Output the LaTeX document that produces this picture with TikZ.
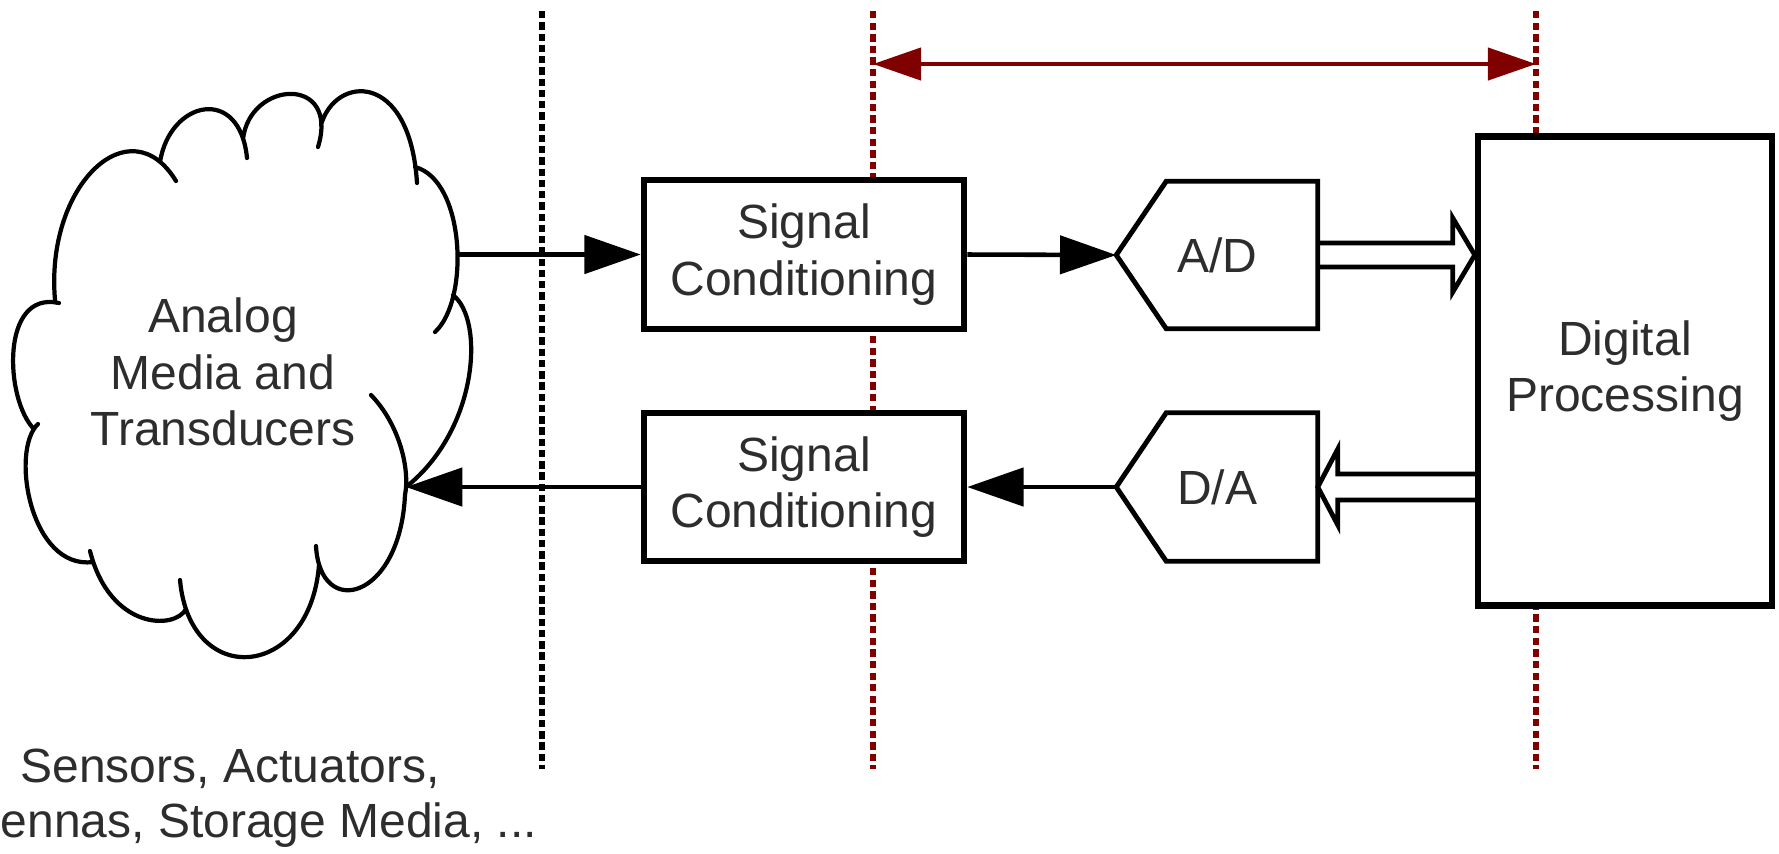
\documentclass[tikz,border=0pt]{standalone}
\usepackage{fontspec}
\setmainfont{Liberation Sans}
\usetikzlibrary{arrows.meta,calc,backgrounds}
\definecolor{dred}{RGB}{128,0,0}
\definecolor{txtgray}{RGB}{45,45,45}
\begin{document}
\begin{tikzpicture}[x=0.01cm,y=-0.01cm,
  txt/.style={font=\fontsize{13.65}{16}\selectfont, text=txtgray, align=center, inner sep=0pt},
  box/.style={txt, draw=black, line width=1.8pt, fill=white, minimum width=3.2cm},
  conv/.style={draw=black, line width=1.4pt, line join=miter},
  sigarrow/.style={draw=black, line width=1.3pt, -{Triangle[length=16pt,width=10.8pt]}},
  wide/.style={draw=black, line width=1.35pt, line join=miter},
  cloudline/.style={draw=black, line width=1.2pt, line cap=round},
  blackdots/.style={draw=black, line width=1.5pt, dash pattern=on 2.1pt off 1.1pt},
  reddots/.style={draw=dred, line width=1.5pt, dash pattern=on 2.1pt off 1.2pt},
  span/.style={draw=dred, line width=1.3pt, {Triangle[length=13.7pt,width=9.1pt]}-{Triangle[length=13.7pt,width=9.1pt]}},
]
\useasboundingbox (0,0) rectangle (1779,853);

% blocks
\node[box, minimum height=1.49cm] (sc1) at (804,254.5) {Signal\\Conditioning};
\node[box, minimum height=1.48cm] (sc2) at (804,487) {Signal\\Conditioning};
\node[txt, minimum width=2cm, minimum height=1.46cm] (ad) at (1217,255) {A/D};
\node[txt, minimum width=2cm, minimum height=1.47cm] (da) at (1217,487) {D/A};
\node[box, minimum width=2.94cm, minimum height=4.69cm] (dp) at (1625,371) {Digital\\Processing};
\node[txt] (cloudtxt) at (223,372) {Analog\\Media and\\Transducers};
\node[txt, anchor=base] (sens) at (230,782) {Sensors, Actuators,};
\node[txt, anchor=base west] (stor) at (0,837) {ennas, Storage Media, ...};

% converter outlines
\draw[conv] (ad.west) -- ($(ad.north west)+(50,0)$) -- (ad.north east) -- (ad.south east) -- ($(ad.south west)+(50,0)$) -- cycle;
\draw[conv] (da.west) -- ($(da.north west)+(50,0)$) -- (da.north east) -- (da.south east) -- ($(da.south west)+(50,0)$) -- cycle;

% cloud
\draw[cloudline]
 (55,300) .. controls (45,185) and (130,105) .. (176,181)
 (160,162) .. controls (170,100) and (240,85) .. (247,158)
 (243,139) .. controls (250,80) and (340,75) .. (318,147)
 (321,125) .. controls (335,75) and (410,70) .. (417,183)
 (415,167) .. controls (465,180) and (470,300) .. (435,332)
 (453,295) .. controls (485,320) and (478,430) .. (406,487)
 (371,395) .. controls (400,425) and (410,470) .. (405,495) .. controls (400,600) and (320,620) .. (316,546)
 (319,565) .. controls (310,680) and (190,690) .. (180,580)
 (186,609) .. controls (175,630) and (110,630) .. (90,551)
 (93,562) .. controls (30,570) and (10,450) .. (38,424)
 (34,429) .. controls (5,400) and (0,290) .. (59,303);
\coordinate (cout) at (457,254.5);
\coordinate (cin) at (406,487);

% boundary lines
\coordinate (bt) at (542,11); \coordinate (bb) at (542,769);
\coordinate (r1t) at (873,11); \coordinate (r1b) at (873,769);
\coordinate (r2t) at (1536,11); \coordinate (r2b) at (1536,769);
\coordinate (sa) at (873,64); \coordinate (sb) at (1536,64);
\begin{scope}[on background layer]
 \draw[blackdots] (bt) -- (bb);
 \draw[reddots] (r1t) -- (r1b);
 \draw[reddots] (r2t) -- (r2b);
\end{scope}
\draw[span] (sa) -- (sb);

% signal arrows
\draw[sigarrow] (cout) -- (sc1.west);
\draw[sigarrow] (sc1.east) -- (ad.west);
\draw[sigarrow] (da.west) -- (sc2.east);
\draw[sigarrow] (sc2.west) -- (cin);

% wide (digital) arrows
\draw[wide] ($(ad.east)+(0,-12)$) -- ($(dp.west|-ad.east)+(-22,-12)$) -- ++(0,-25) -- (dp.west|-ad.east) -- ++(-22,37) -- ++(0,-25) -- ($(ad.east)+(0,12)$);
\draw[wide] ($(dp.west|-da.east)+(0,-13)$) -- ($(da.east)+(20,-13)$) -- ++(0,-25) -- (da.east) -- ++(20,38) -- ++(0,-25) -- ($(dp.west|-da.east)+(0,13)$);
\end{tikzpicture}
\end{document}
